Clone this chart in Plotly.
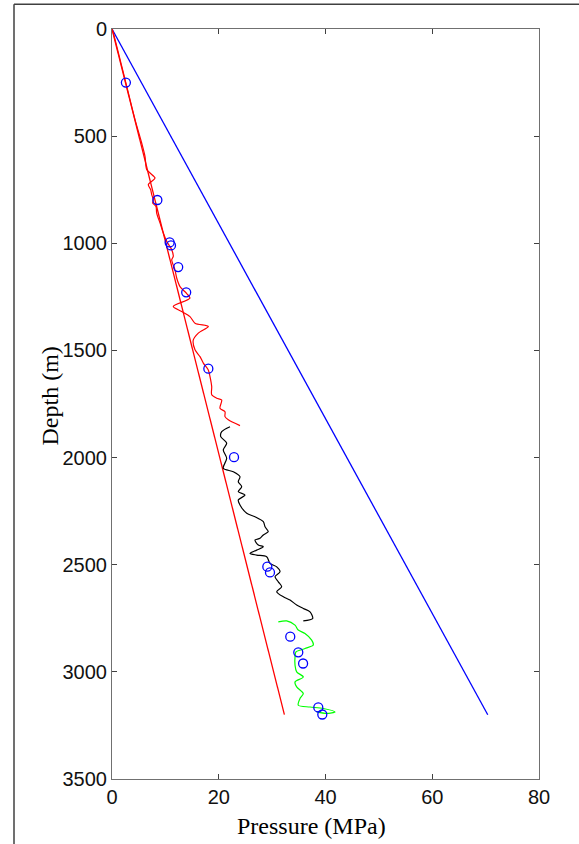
import plotly.graph_objects as go

# Trend lines (pressure MPa, depth m)
blue_line_p = [0, 70.4]
blue_line_d = [0, 3200]
red_line_p = [0, 32.3]
red_line_d = [0, 3200]

# Measured points
meas_p = [2.6, 8.5, 10.8, 11.05, 12.4, 13.9, 18.05, 22.86, 29.1, 29.6, 33.4, 34.9, 35.8, 38.65, 39.4]
meas_d = [250, 798, 996, 1010, 1111, 1229, 1585, 1998, 2509, 2536, 2836, 2909, 2961, 3166, 3199]

# Red log curve
red_p = [0, 0.24, 2.75, 4.31, 5.56, 6.18, 6.50, 7.12, 8.06, 7.44, 6.80, 7.25, 7.44, 7.74, 7.63, 8.24,
         8.37, 8.99, 9.61, 10.25, 11.19, 11.48, 11.19, 11.80, 12.12, 12.74, 14.00, 14.61, 11.48, 13.06,
         14.61, 15.55, 18.04, 16.17, 15.23, 15.55, 16.49, 17.11, 18.04, 18.36, 18.68, 18.68, 19.62,
         20.55, 20.23, 21.17, 21.17, 21.79, 23.98]
red_d = [0, 18, 267, 423, 532, 594, 656, 672, 695, 711, 726, 750, 773, 797, 812, 828,
         859, 905, 952, 991, 1030, 1061, 1077, 1124, 1162, 1202, 1235, 1256, 1295, 1318,
         1342, 1373, 1388, 1419, 1451, 1497, 1529, 1559, 1591, 1622, 1669, 1707, 1723,
         1731, 1770, 1786, 1809, 1824, 1851]

# Black log curve
black_p = [22.11, 20.55, 20.37, 21.49, 20.85, 21.49, 20.85, 22.73, 23.98, 23.66, 24.30, 23.66, 24.92,
           23.66, 23.98, 25.24, 26.79, 28.35, 28.67, 29.28, 28.35, 27.73, 26.79, 27.41, 28.35, 27.11,
           25.85, 27.11, 28.98, 29.60, 30.86, 31.48, 30.54, 31.16, 31.79, 30.86, 32.10, 33.35, 34.60,
           35.84, 37.10, 37.60, 35.84]
black_d = [1856, 1879, 1902, 1933, 1964, 2003, 2050, 2066, 2089, 2113, 2136, 2159, 2175,
           2198, 2221, 2260, 2276, 2299, 2323, 2346, 2361, 2377, 2385, 2408, 2416, 2432,
           2447, 2455, 2463, 2494, 2510, 2533, 2556, 2580, 2603, 2626, 2650, 2665, 2688,
           2704, 2720, 2751, 2762]

# Green log curve
green_p = [31.16, 32.73, 34.29, 34.90, 36.16, 37.41, 37.71, 36.16, 34.47, 34.29, 34.29, 34.60, 35.84,
           34.29, 34.60, 35.84, 35.22, 34.90, 37.10, 39.59, 41.78, 40.23, 38.35]
green_d = [2767, 2762, 2782, 2805, 2821, 2852, 2875, 2891, 2907, 2930, 2969, 3000, 3024,
           3047, 3070, 3101, 3124, 3156, 3164, 3171, 3187, 3194, 3187]

x_ticks = [0, 20, 40, 60, 80]
y_ticks = [0, 500, 1000, 1500, 2000, 2500, 3000, 3500]

fig = go.Figure()
fig.add_trace(go.Scatter(x=blue_line_p, y=blue_line_d, mode="lines",
                         line=dict(color="#0000ff", width=1.3)))
fig.add_trace(go.Scatter(x=red_line_p, y=red_line_d, mode="lines",
                         line=dict(color="#ff0000", width=1.3)))
fig.add_trace(go.Scatter(x=red_p, y=red_d, mode="lines",
                         line=dict(color="#ff0000", width=1.2, shape="spline", smoothing=0.8)))
fig.add_trace(go.Scatter(x=black_p, y=black_d, mode="lines",
                         line=dict(color="#000000", width=1.2, shape="spline", smoothing=0.8)))
fig.add_trace(go.Scatter(x=green_p, y=green_d, mode="lines",
                         line=dict(color="#00ff00", width=1.2, shape="spline", smoothing=0.8)))
fig.add_trace(go.Scatter(x=meas_p, y=meas_d, mode="markers",
                         marker=dict(symbol="circle-open", size=9, color="#0000ff",
                                     line=dict(width=1.3, color="#0000ff"))))

axis_common = dict(showgrid=False, zeroline=False, showline=True, linecolor="#707070",
                   linewidth=1, mirror="ticks", ticks="inside", ticklen=5, tickcolor="#404040",
                   tickwidth=1, tickfont=dict(family="Liberation Sans", size=20, color="#111111"))

fig.update_xaxes(range=[0, 80], tickvals=x_ticks, **axis_common)
fig.update_yaxes(range=[3500, 0], tickvals=y_ticks, **axis_common)

fig.update_layout(
    width=579, height=844,
    margin=dict(l=112, r=40, t=29, b=65),
    plot_bgcolor="white", paper_bgcolor="white",
    showlegend=False,
    annotations=[
        dict(text="Pressure (MPa)", xref="paper", yref="paper", x=0.468, y=-0.0625,
             xanchor="center", yanchor="middle", showarrow=False,
             font=dict(family="Liberation Serif", size=24, color="#000000")),
        dict(text="Depth (m)", xref="paper", yref="paper", x=-0.1475, y=0.51,
             xanchor="center", yanchor="middle", showarrow=False, textangle=-90,
             font=dict(family="Liberation Serif", size=24, color="#000000")),
    ],
    shapes=[
        dict(type="line", xref="paper", yref="paper", x0=-0.2295, y0=1.0331, x1=1.3, y1=1.0331,
             line=dict(color="#404040", width=1.5)),
        dict(type="line", xref="paper", yref="paper", x0=-0.2295, y0=1.0331, x1=-0.2295, y1=-0.3,
             line=dict(color="#404040", width=1.5)),
    ],
)

fig.write_html("out.html")
